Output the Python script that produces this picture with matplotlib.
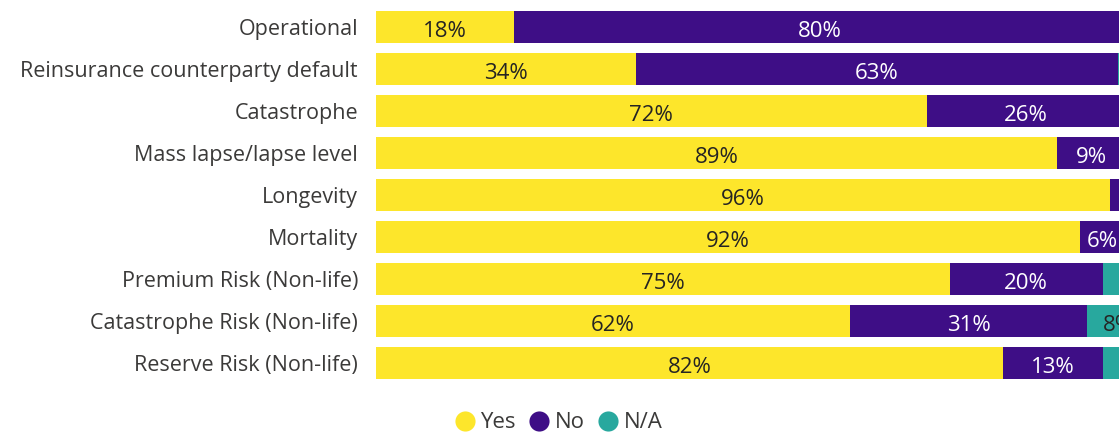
import matplotlib
matplotlib.use("Agg")
import matplotlib.pyplot as plt
import numpy as np
from matplotlib.lines import Line2D

YELLOW = "#FDE62B"
PURPLE = "#3E0E86"
TEAL = "#28A89E"
TEXT = "#3b3a39"

categories = [
    "Operational",
    "Reinsurance counterparty default",
    "Catastrophe",
    "Mass lapse/lapse level",
    "Longevity",
    "Mortality",
    "Premium Risk (Non-life)",
    "Catastrophe Risk (Non-life)",
    "Reserve Risk (Non-life)",
]
yes_vals = [18, 34, 72, 89, 96, 92, 75, 62, 82]
no_vals = [80, 63, 26, 9, 3, 6, 20, 31, 13]
na_vals = [2, 3, 2, 2, 1, 2, 5, 8, 5]

plt.rcParams["font.family"] = ["Open Sans", "DejaVu Sans"]

W, H = 1119, 432
fig = plt.figure(figsize=(W / 100, H / 100), dpi=100, facecolor="white")
ax = fig.add_axes([376 / W, (H - 384) / H, 765 / W, 378 / H])

y = np.arange(len(categories))
series = [
    ("Yes", yes_vals, YELLOW, "#252423"),
    ("No", no_vals, PURPLE, "white"),
    ("N/A", na_vals, TEAL, "#252423"),
]
left = np.zeros(len(categories))
for name, vals, color, tcolor in series:
    vals = np.array(vals, dtype=float)
    ax.barh(y, vals, left=left, height=0.76, color=color, edgecolor="none")
    for yi, l, v in zip(y, left, vals):
        if v >= 6:
            ax.text(l + v / 2, yi + 0.1, f"{int(v)}%", ha="center", va="center",
                    color=tcolor, fontsize=16)
    left += vals

ax.set_xlim(0, 100)
ax.set_ylim(len(categories) - 0.5, -0.5)
ax.set_yticks(y)
ax.set_yticklabels(categories, color=TEXT, fontsize=15.5)
ax.tick_params(axis="y", length=0, pad=13)
ax.set_xticks([])
for s in ax.spines.values():
    s.set_visible(False)

handles = [Line2D([], [], marker="o", linestyle="none", markersize=14.5,
                  markerfacecolor=c, markeredgecolor="none") for _, _, c, _ in series]
fig.legend(handles, [n for n, _, _, _ in series], loc="center",
           bbox_to_anchor=(558 / W, 1 - 423 / H), ncol=3, frameon=False,
           fontsize=16, handlelength=1.0, handletextpad=0.2, columnspacing=0.55,
           labelcolor=TEXT)

fig.savefig("out.png", dpi=100, facecolor="white")
